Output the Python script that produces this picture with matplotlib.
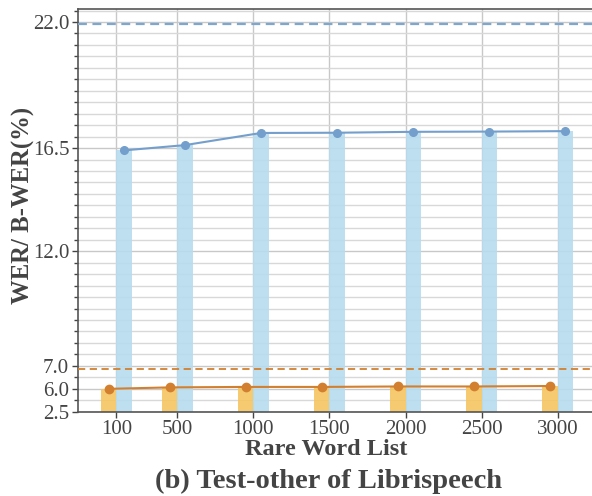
import numpy as np
import matplotlib.pyplot as plt

word_list = [100, 500, 1000, 1500, 2000, 2500, 3000]
wer = [5.99, 6.06, 6.08, 6.08, 6.10, 6.10, 6.12]
b_wer = [16.40, 16.63, 17.16, 17.17, 17.21, 17.22, 17.24]
wer_baseline = 6.85
b_wer_baseline = 21.9
y_ticks = [2.5, 6.0, 7.0, 12.0, 16.5, 22.0]
y_bottom = 2.5


def forward(y):
    y = np.asarray(y, dtype=float)
    return np.where(y >= 6, y, 6 - (6 - y) / 3.5)


def inverse(t):
    t = np.asarray(t, dtype=float)
    return np.where(t >= 6, t, 6 - (6 - t) * 3.5)


def main():
    plt.rcParams['font.family'] = ['Liberation Serif', 'DejaVu Serif']
    fig = plt.figure(figsize=(5.92, 4.96), dpi=100)
    ax = fig.add_axes([0.131, 0.170, 0.869, 0.811])

    ax.set_yscale('function', functions=(forward, inverse))

    x = np.array(word_list)
    w = 100
    wer_h = np.array(wer) - y_bottom
    bwer_h = np.array(b_wer) - y_bottom
    ax.bar(x - w / 2, wer_h, width=w, bottom=y_bottom, color='#f6c560',
           alpha=0.9, zorder=2)
    ax.bar(x + w / 2, bwer_h, width=w, bottom=y_bottom, color='#b7dcee',
           alpha=0.9, zorder=2)

    ax.plot(x - w / 2, wer, '-o', color='#d2802f', lw=1.5, ms=6, zorder=3)
    ax.plot(x + w / 2, b_wer, '-o', color='#749fcc', lw=1.5, ms=5.5, zorder=3)

    ax.axhline(wer_baseline, color='#d2802f', ls=(0, (4, 2.5)), lw=1.3, zorder=3)
    ax.axhline(b_wer_baseline, color='#7ea6cf', ls=(0, (4, 2.5)), lw=1.6, zorder=3)

    ax.set_xlim(-156, 3226)
    ax.set_ylim(2.5, inverse(22.55))
    ax.set_xticks(word_list)
    ax.set_xticklabels([str(v) for v in word_list])
    ax.set_yticks(y_ticks)
    ax.set_yticklabels(['%.1f' % v for v in y_ticks])
    ax.set_yticks(inverse(np.arange(5.0, 22.6, 0.5)), minor=True)

    ax.grid(True, which='major', color='#c8c8c8', lw=1.0, zorder=0)
    ax.grid(True, which='minor', axis='y', color='#d8d8d8', lw=1.0, zorder=0)
    ax.set_axisbelow(True)

    for side in ['top', 'left', 'bottom']:
        ax.spines[side].set_color('#555555')
        ax.spines[side].set_linewidth(1.2)
    ax.spines['right'].set_visible(False)

    ax.tick_params(axis='both', which='major', labelsize=15, colors='#444444',
                   length=4, width=1, pad=2)
    ax.tick_params(axis='y', which='minor', length=3, width=1, colors='#444444')

    ax.set_xlabel('Rare Word List', fontsize=17.5, fontweight='bold',
                  color='#444444')
    ax.xaxis.set_label_coords(0.483, -0.067)
    fig.text(0.039, 0.585, 'WER/ B-WER(%)', rotation=90, fontsize=17.8,
             fontweight='bold', color='#444444', ha='center', va='center')
    fig.text(0.555, 0.030, '(b) Test-other of Librispeech', fontsize=20.5,
             fontweight='bold', color='#444444', ha='center', va='center')

    fig.savefig('out.png', dpi=100)


if __name__ == "__main__":
    main()
